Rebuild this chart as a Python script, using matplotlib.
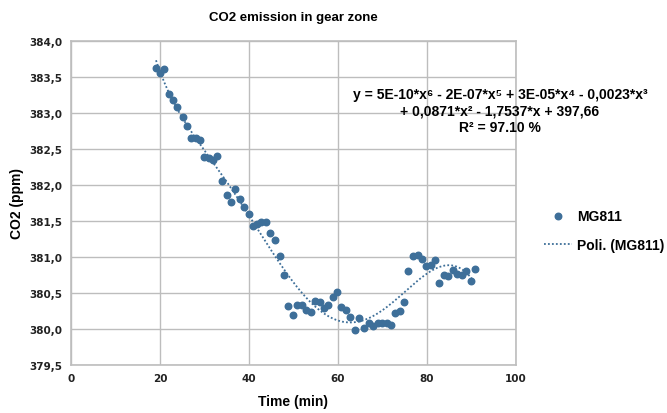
import numpy as np
import matplotlib
matplotlib.use("Agg")
import matplotlib.pyplot as plt
from matplotlib.ticker import FuncFormatter

# --- data ---
time_min = [19.1, 20.0, 21.0, 22.1, 23.0, 23.9, 25.1, 26.0, 26.9, 28.1,
            29.0, 29.9, 31.0, 31.9, 32.9, 33.9, 35.0, 35.9, 36.9, 38.0,
            38.9, 39.9, 41.0, 41.9, 42.8, 43.9, 44.8, 45.8, 46.9, 47.9,
            48.8, 49.9, 50.8, 51.8, 52.9, 53.9, 54.8, 55.9, 56.9, 57.8,
            58.9, 59.8, 60.7, 61.9, 62.8, 63.8, 64.8, 65.8, 66.9, 67.8,
            68.9, 69.8, 70.9, 71.9, 72.8, 73.9, 74.8, 75.8, 76.9, 77.9,
            78.8, 79.8, 80.8, 81.8, 82.8, 83.8, 84.8, 85.8, 86.8, 87.8,
            88.8, 89.8, 90.7]
co2_ppm = [383.62, 383.55, 383.61, 383.26, 383.18, 383.09, 382.94, 382.82, 382.65, 382.65,
           382.63, 382.39, 382.37, 382.35, 382.40, 382.05, 381.86, 381.77, 381.94, 381.81,
           381.70, 381.60, 381.43, 381.46, 381.49, 381.48, 381.34, 381.24, 381.01, 380.75,
           380.32, 380.19, 380.33, 380.33, 380.26, 380.23, 380.39, 380.38, 380.29, 380.34,
           380.44, 380.51, 380.31, 380.26, 380.17, 379.99, 380.15, 380.01, 380.08, 380.04,
           380.08, 380.08, 380.09, 380.05, 380.22, 380.25, 380.37, 380.81, 381.01, 381.03,
           380.97, 380.88, 380.89, 380.96, 380.64, 380.75, 380.74, 380.82, 380.76, 380.75,
           380.80, 380.67, 380.83]

x_ticks = [0, 20, 40, 60, 80, 100]
y_ticks = [379.5, 380.0, 380.5, 381.0, 381.5, 382.0, 382.5, 383.0, 383.5, 384.0]

eq_text = ("y = 5E-10*x\u2076 - 2E-07*x\u2075 + 3E-05*x\u2074 - 0,0023*x\u00b3\n"
           "+ 0,0871*x\u00b2 - 1,7537*x + 397,66\n"
           "R\u00b2 = 97.10 %")

col = "#3E6F99"
grid_col = "#BDBDBD"
txt_font = ["Liberation Sans", "DejaVu Sans"]

fig = plt.figure(figsize=(6.67, 4.14), dpi=100)
ax = fig.add_axes([71 / 667, 48 / 414, 445 / 667, 324 / 414])

ax.scatter(time_min, co2_ppm, s=22, color=col, zorder=3, label="MG811")

# 6th order polynomial trendline (like Excel)
coef = np.polyfit(time_min, co2_ppm, 6)
xs = np.linspace(min(time_min), max(time_min), 300)
ax.plot(xs, np.polyval(coef, xs), color=col, lw=1.3, ls=(0, (1, 1.2)),
        zorder=2, label="Poli. (MG811)")

ax.set_xlim(0, 100)
ax.set_ylim(379.5, 384.0)
ax.set_xticks(x_ticks)
ax.set_yticks(y_ticks)
ax.yaxis.set_major_formatter(FuncFormatter(lambda v, p: f"{v:.1f}".replace(".", ",")))
ax.grid(True, color=grid_col, lw=1)
ax.set_axisbelow(True)
for s in ax.spines.values():
    s.set_color(grid_col)
    s.set_linewidth(1.2)
ax.tick_params(length=0, pad=6, labelsize=7.5)
for lab in ax.get_xticklabels() + ax.get_yticklabels():
    lab.set_fontweight("bold")
    lab.set_family("DejaVu Sans")
    lab.set_color("#222222")

ax.set_title("CO2 emission in gear zone", fontsize=9.5, fontweight="bold",
             family=txt_font, pad=15)
ax.set_xlabel("Time (min)", fontsize=10, fontweight="bold", family=txt_font, labelpad=8)
ax.set_ylabel("CO2 (ppm)", fontsize=10, fontweight="bold", family=txt_font, labelpad=4)

fig.text(500 / 667, 1 - 88 / 414, eq_text, ha="center", va="top", fontsize=10,
         fontweight="bold", family=txt_font, linespacing=1.25)

leg = ax.legend(loc="center left", bbox_to_anchor=(1.035, 0.415), frameon=False,
                prop={"family": txt_font, "weight": "bold", "size": 10},
                handlelength=2.0, labelspacing=1.1, handletextpad=0.4)

fig.savefig("out.png", dpi=100)
